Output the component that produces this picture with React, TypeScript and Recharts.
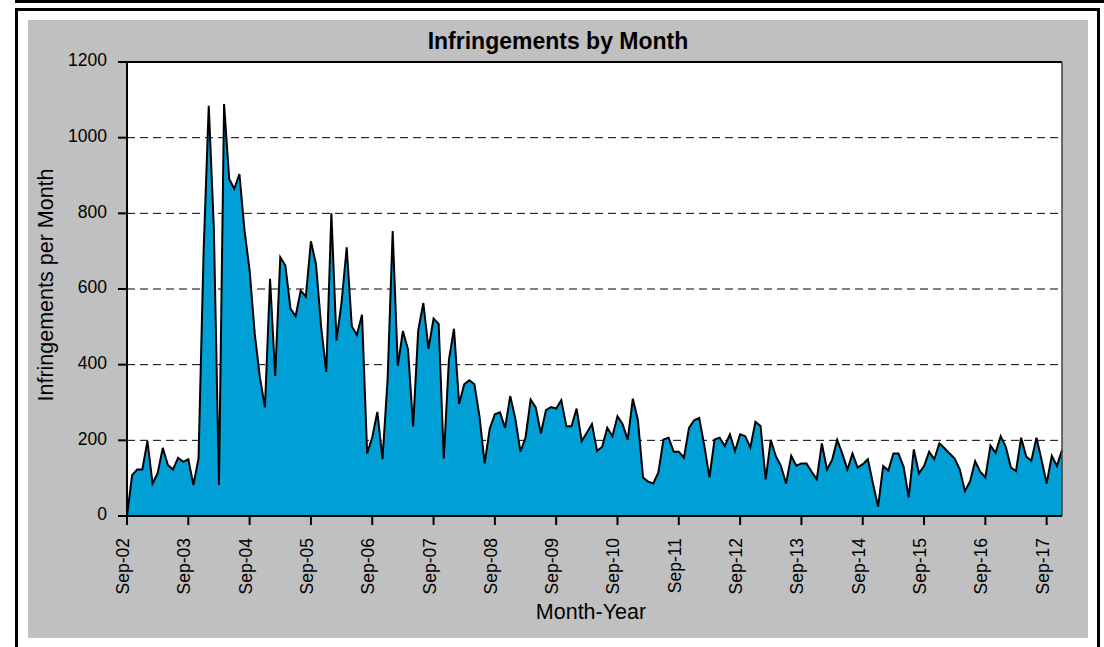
import React from 'react';
import { AreaChart, Area, XAxis, YAxis, CartesianGrid, ReferenceLine } from 'recharts';

const MONTH_NAMES = ['Jan', 'Feb', 'Mar', 'Apr', 'May', 'Jun', 'Jul', 'Aug', 'Sep', 'Oct', 'Nov', 'Dec'];
const START_YEAR = 2002;
const START_MONTH_INDEX = 8; // Sep

// Infringements per month, Sep-02 .. Dec-17
const VALUES: number[] = [
  0, 108, 123, 123, 198, 86, 113, 180, 135, 123, 154, 143,
  150, 82, 152, 702, 1084, 760, 82, 1089, 891, 865, 904, 755,
  649, 482, 367, 287, 627, 370, 684, 662, 548, 528, 596, 580,
  726, 665, 500, 381, 800, 464, 565, 710, 501, 479, 532, 165,
  208, 275, 150, 359, 753, 397, 489, 440, 237, 491, 563, 442,
  522, 508, 152, 412, 495, 296, 348, 359, 348, 262, 139, 231,
  269, 274, 233, 317, 258, 170, 207, 308, 287, 218, 280, 288,
  284, 306, 237, 237, 284, 198, 220, 243, 172, 183, 233, 211,
  264, 243, 202, 310, 253, 102, 91, 86, 115, 202, 207, 170,
  170, 154, 233, 253, 259, 185, 102, 202, 207, 185, 216, 172,
  216, 211, 181, 249, 238, 97, 201, 158, 132, 86, 159, 133,
  139, 139, 117, 97, 192, 123, 148, 201, 165, 123, 165, 128,
  137, 150, 86, 25, 132, 120, 165, 165, 130, 49, 176, 113,
  132, 170, 150, 192, 179, 165, 152, 123, 66, 91, 145, 117,
  102, 186, 167, 211, 183, 128, 119, 207, 157, 146, 207, 148,
  86, 159, 132, 174,
];

const CATEGORIES: string[] = VALUES.map((_, i) => {
  const k = START_MONTH_INDEX + i;
  const yr = (START_YEAR + Math.floor(k / 12)) % 100;
  return `${MONTH_NAMES[k % 12]}-${String(yr).padStart(2, '0')}`;
});

const Y_TICKS = [0, 200, 400, 600, 800, 1000, 1200];

const DATA = CATEGORIES.map((month, i) => ({ month, value: VALUES[i] }));

const FONT = '"Liberation Sans", Arial, Helvetica, sans-serif';

const XTick = (props: any) => {
  const { x, y, payload } = props;
  return (
    <g transform={`translate(${x},${y}) rotate(-90)`}>
      <text x={0} y={0} dy={2} textAnchor="end" fill="#000" fontSize={17.5} fontFamily={FONT}>
        {payload.value}
      </text>
    </g>
  );
};

const YTick = (props: any) => {
  const { x, y, payload } = props;
  return (
    <text x={x} y={y} dy={4.3} textAnchor="end" fill="#000" fontSize={17.5} fontFamily={FONT}>
      {payload.value}
    </text>
  );
};

export default function App() {
  return (
    <div style={{ position: 'absolute', left: 0, top: 0, width: 1104, height: 647, background: '#fff', overflow: 'hidden' }}>
      {/* frame lines */}
      <div style={{ position: 'absolute', left: 15, top: 0, width: 1089, height: 3, background: '#000' }} />
      <div style={{ position: 'absolute', left: 15, top: 8, width: 1085, height: 3, background: '#000' }} />
      <div style={{ position: 'absolute', left: 15, top: 8, width: 3, height: 639, background: '#000' }} />
      <div style={{ position: 'absolute', left: 1097, top: 8, width: 3, height: 639, background: '#000' }} />
      {/* gray chart area */}
      <div style={{ position: 'absolute', left: 28, top: 20, width: 1060, height: 618, background: '#c0c0c0' }} />
      <div style={{ position: 'absolute', left: 0, top: 0 }}>
        <AreaChart width={1104} height={647} data={DATA} margin={{ top: 62, right: 42, bottom: 0, left: 0 }}>
          <CartesianGrid
            vertical={false}
            fill="#ffffff"
            stroke="#000"
            strokeWidth={1}
            strokeDasharray="8 5"
          />
          <XAxis
            dataKey="month"
            type="category"
            interval={11}
            height={131}
            tickSize={9}
            tickMargin={13}
            axisLine={{ stroke: '#000', strokeWidth: 2 }}
            tickLine={{ stroke: '#000', strokeWidth: 2 }}
            tick={<XTick />}
          />
          <YAxis
            domain={[0, 1200]}
            ticks={Y_TICKS}
            width={127}
            tickSize={9}
            tickMargin={11}
            axisLine={{ stroke: '#000', strokeWidth: 2 }}
            tickLine={{ stroke: '#000', strokeWidth: 2 }}
            tick={<YTick />}
            allowDataOverflow
          />
          <Area
            type="linear"
            dataKey="value"
            stroke="#000"
            strokeWidth={2}
            fill="#00A0D6"
            fillOpacity={1}
            dot={false}
            activeDot={false}
            isAnimationActive={false}
          />
          <ReferenceLine y={1200} stroke="#000" strokeWidth={2} />
          <ReferenceLine x={CATEGORIES[CATEGORIES.length - 1]} stroke="#404040" strokeWidth={1.5} />
        </AreaChart>
      </div>
      <svg width={1104} height={647} style={{ position: 'absolute', left: 0, top: 0, pointerEvents: 'none' }}>
        <text x={558} y={49} textAnchor="middle" fontWeight="bold" fontSize={23} fontFamily={FONT} fill="#000">
          Infringements by Month
        </text>
        <text x={591} y={619} textAnchor="middle" fontSize={21.5} fontFamily={FONT} fill="#000">
          Month-Year
        </text>
        <text transform="translate(53,285) rotate(-90)" textAnchor="middle" fontSize={21.5} fontFamily={FONT} fill="#000">
          Infringements per Month
        </text>
      </svg>
    </div>
  );
}
